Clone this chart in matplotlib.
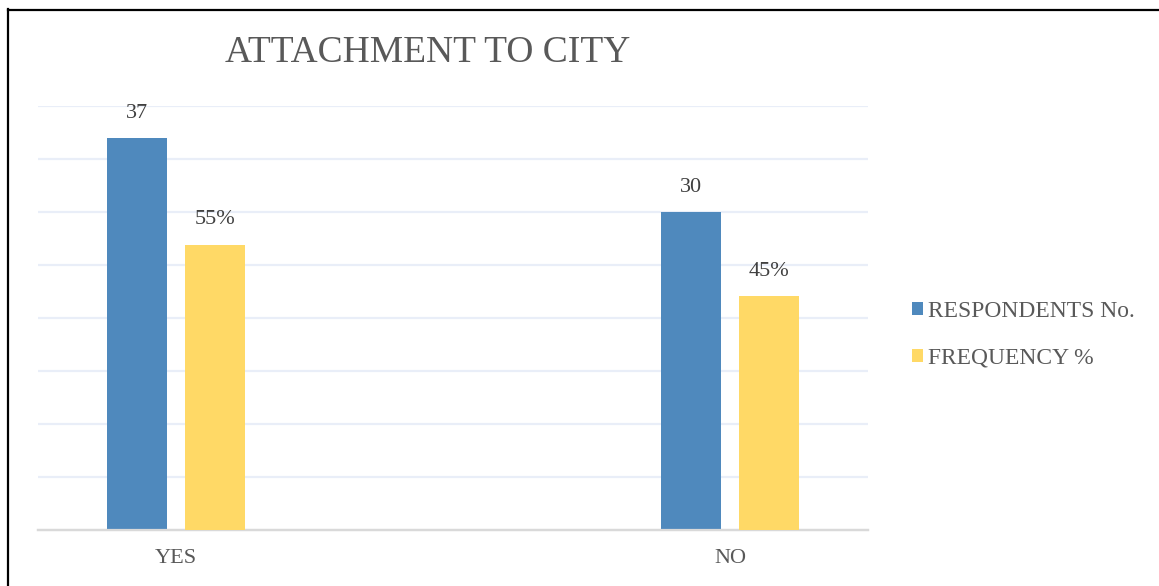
import matplotlib

matplotlib.use("Agg")
import matplotlib.pyplot as plt
from matplotlib.lines import Line2D
import numpy as np

# ---- data ---------------------------------------------------------------
categories = ["YES", "NO"]
respondents = [37, 30]
frequency_pct = [55, 45]
series_names = ["RESPONDENTS No.", "FREQUENCY %"]

BLUE = "#4F89BD"
YELLOW = "#FFD966"
GRID = "#E9EEF8"
TEXT = "#595959"

W, H = 1159, 586
plt.rcParams["font.family"] = ["Liberation Serif", "DejaVu Serif"]

fig = plt.figure(figsize=(W / 100, H / 100), dpi=100)
ax = fig.add_axes([38 / W, 1 - 530 / H, (868 - 38) / W, (530 - 106) / H])
ax2 = ax.twinx()

x = np.arange(len(categories))
bw = 0.108
off = 0.07

b1 = ax.bar(x - off, respondents, bw, color=BLUE, zorder=3, label=series_names[0])
# percentages live on their own (hidden) scale
b2 = ax2.bar(x + off, frequency_pct, bw, color=YELLOW, zorder=3, label=series_names[1])

ax.set_xlim(-0.249, 1.249)
ax.set_ylim(0, 40)
ax2.set_ylim(0, 81.7)
ax.set_yticks(np.arange(5, 41, 5))
ax.yaxis.grid(True, color=GRID, lw=1.6, zorder=0)
ax.set_axisbelow(True)
ax.tick_params(axis="y", length=0, labelleft=False)
ax2.tick_params(axis="y", length=0, labelright=False)
ax.set_xticks(x)
ax.set_xticklabels(categories, fontsize=16, color=TEXT)
ax.tick_params(axis="x", length=0, pad=14)
for a in (ax, ax2):
    for s in ("top", "right", "left"):
        a.spines[s].set_visible(False)
    a.spines["bottom"].set_color("#D9D9D9")
    a.spines["bottom"].set_linewidth(1.6)

for rect, v in zip(b1, respondents):
    ax.annotate(f"{v}", (rect.get_x() + rect.get_width() / 2, v),
                xytext=(0, 11), textcoords="offset points",
                ha="center", va="bottom", fontsize=16, color="#404040")
for rect, v in zip(b2, frequency_pct):
    ax2.annotate(f"{v}%", (rect.get_x() + rect.get_width() / 2, v),
                 xytext=(0, 11), textcoords="offset points",
                 ha="center", va="bottom", fontsize=16, color="#404040")

fig.text(428 / W, 1 - 53 / H, "ATTACHMENT TO CITY", ha="center", va="center",
         fontsize=27, color=TEXT)

fig.legend([b1, b2], series_names, loc="center left",
           bbox_to_anchor=(891 / W, 1 - 335 / H), frameon=False,
           fontsize=16.9, labelcolor=TEXT, handlelength=0.48, handleheight=0.48,
           handletextpad=0.2, labelspacing=1.1)

# frame edges along left and top
fig.add_artist(Line2D([8 / W, 8 / W], [0, 1 - 9 / H], color="black", lw=1.6))
fig.add_artist(Line2D([8 / W, 1], [1 - 10 / H, 1 - 10 / H], color="black", lw=1.6))

fig.savefig("out.png", dpi=100, facecolor="white")
